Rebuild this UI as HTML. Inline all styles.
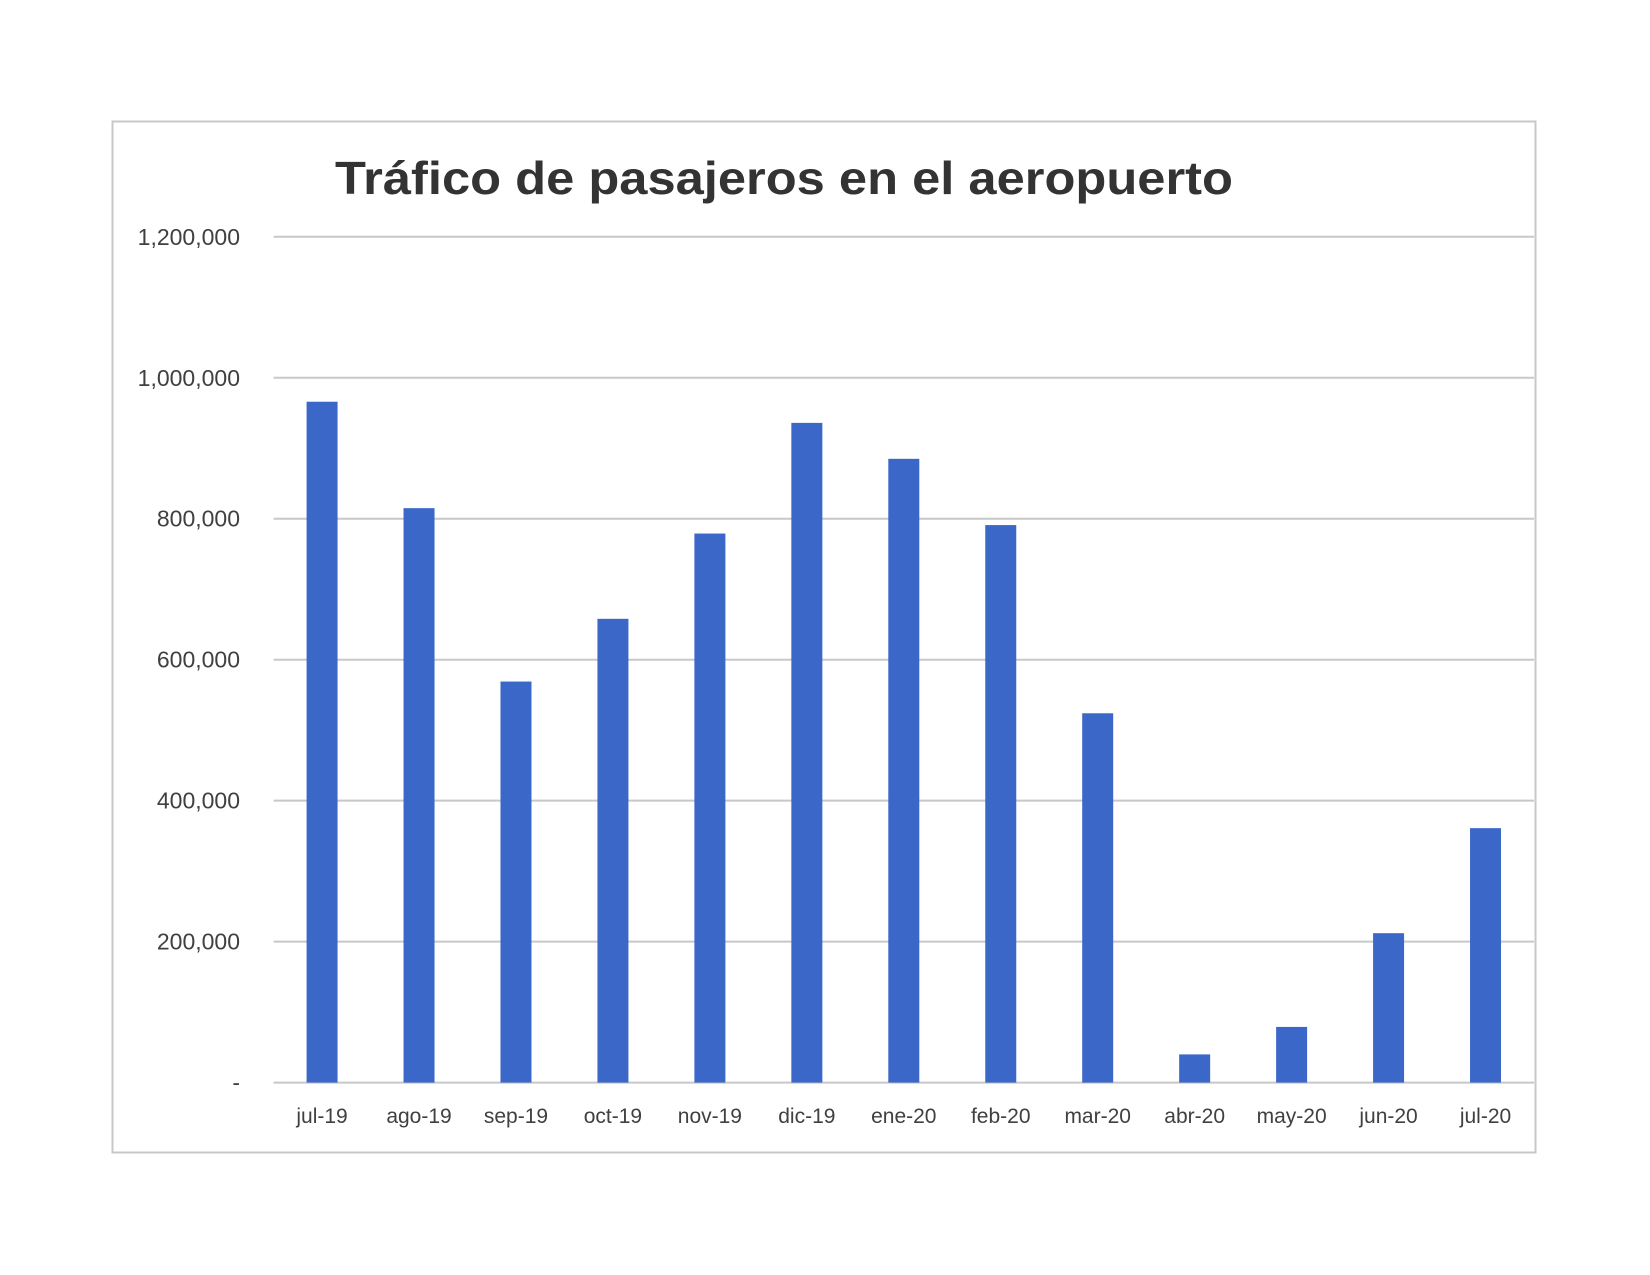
<!DOCTYPE html>
<html><head><meta charset="utf-8"><style>
body{margin:0;background:#fff}
svg{display:block;font-family:"Liberation Sans",sans-serif}
</style></head><body>
<svg id="chart" width="1650" height="1275" viewBox="0 0 1650 1275">
<rect x="112.5" y="121.5" width="1423" height="1031" fill="#fff" stroke="#c8c8c8" stroke-width="2"/>
<text x="784" y="194" text-anchor="middle" font-size="46" font-weight="bold" fill="#333" textLength="898" lengthAdjust="spacingAndGlyphs">Tráfico de pasajeros en el aeropuerto</text>
<g id="grid"></g><g id="bars"></g><g id="labels"></g>
</svg>
<script>
const categories=["jul-19","ago-19","sep-19","oct-19","nov-19","dic-19","ene-20","feb-20","mar-20","abr-20","may-20","jun-20","jul-20"];
const passengers=[966000,815000,569000,658000,779000,936000,885000,791000,524000,40000,79000,212000,361000];
const yTicks=[0,200000,400000,600000,800000,1000000,1200000];
const yTickLabels=["-","200,000","400,000","600,000","800,000","1,000,000","1,200,000"];
const NS="http://www.w3.org/2000/svg";
const x0=273.6,x1=1534,yb=1082.6,yt=236.8,ymax=1200000;
const band=(x1-x0)/categories.length;
const y=v=>yb-(v/ymax)*(yb-yt);
const xc=i=>x0+band*(i+0.5);
const grid=document.getElementById('grid'),bars=document.getElementById('bars'),labels=document.getElementById('labels');
function mk(tag,attrs,parent,text){const e=document.createElementNS(NS,tag);for(const k in attrs)e.setAttribute(k,attrs[k]);if(text!==undefined)e.textContent=text;parent.appendChild(e);return e;}
yTicks.forEach((t,i)=>{
 const l=mk('line',{x1:x0,x2:x1,y1:y(t),y2:y(t),stroke:'#c8c8c8','stroke-width':2},grid);
 
 
 const tx=mk('text',{x:240,y:y(t)+8,'text-anchor':'end','font-size':23,fill:'#404040'},labels,yTickLabels[i]);
 
 
});
const bw=31;
passengers.forEach((v,i)=>{
 const r=mk('rect',{x:xc(i)-bw/2,y:y(v),width:bw,height:yb-y(v),fill:'#3A67C8'},bars);
 
 
 const tx=mk('text',{x:xc(i),y:1123,'text-anchor':'middle','font-size':21,fill:'#404040'},labels,categories[i]);
 
 
});
</script>
</body></html>
